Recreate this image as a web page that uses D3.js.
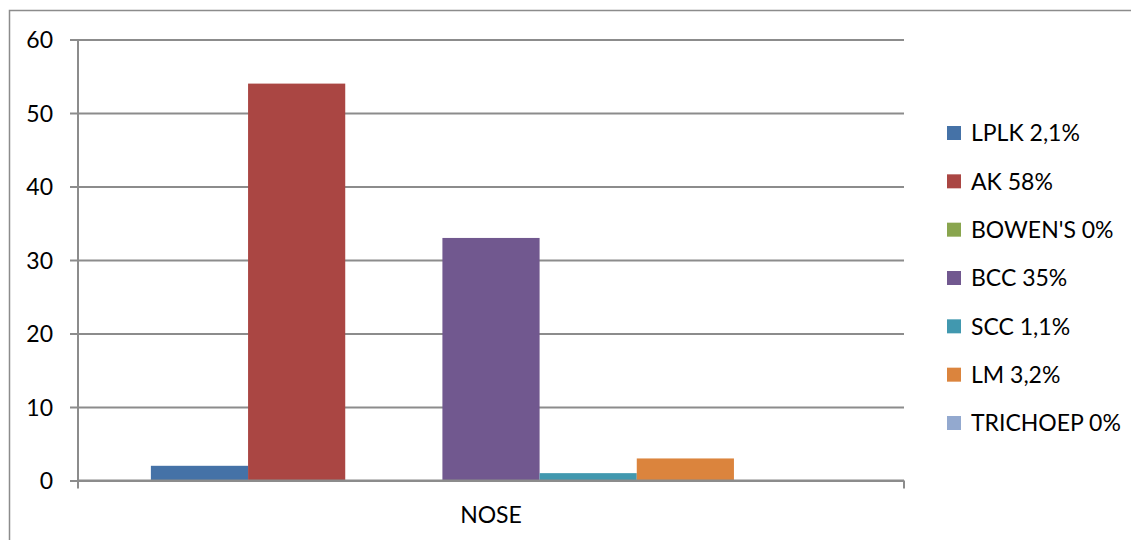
<!DOCTYPE html>
<html>
<head>
<meta charset="utf-8">
<script src="https://cdn.jsdelivr.net/npm/d3@7/dist/d3.min.js"></script>
<style>
  html, body { margin: 0; padding: 0; background: #fff; }
  svg text { font-family: Lato, "Liberation Sans", Arial, sans-serif; fill: #000; }
</style>
</head>
<body>
<svg id="chart" width="1131" height="540"></svg>
<script>
// Lesion types on the nose: counts per diagnosis
const category = "NOSE";
const seriesNames = ["LPLK 2,1%", "AK 58%", "BOWEN'S 0%", "BCC 35%", "SCC 1,1%", "LM 3,2%", "TRICHOEP 0%"];
const seriesValues = [2, 54, 0, 33, 1, 3, 0];
const seriesColors = ["#4572a7", "#aa4643", "#89a54e", "#71588f", "#4198af", "#db843d", "#93a9cf"];
const yTicks = [0, 10, 20, 30, 40, 50, 60];

const svg = d3.select("#chart");
const plot = { left: 78, right: 904, top: 39.5, bottom: 480.5 };
const fontSize = 23;

// Outer chart frame
svg.append("rect")
  .attr("x", 9.5).attr("y", 10.5)
  .attr("width", 1140).attr("height", 560)
  .attr("fill", "none").attr("stroke", "#8c8c8c").attr("stroke-width", 1.5);

const y = d3.scaleLinear().domain([0, 60]).range([plot.bottom, plot.top]);
const xCat = d3.scaleBand().domain([category]).range([plot.left, plot.right]);
// Bars fill the category band with a gap of 1.5 bar widths split over both sides
const barW = xCat.bandwidth() / (seriesNames.length + 1.5);
const xSeries = d3.scaleBand()
  .domain(seriesNames)
  .range([xCat(category) + barW * 0.75, xCat(category) + xCat.bandwidth() - barW * 0.75])
  .padding(0);

// Gridlines with short outside ticks
const yAxis = d3.axisLeft(y).tickValues(yTicks).tickSize(-(plot.right - plot.left)).tickPadding(25).tickSizeOuter(0);
const gY = svg.append("g").attr("transform", `translate(${plot.left},0)`).call(yAxis);
gY.select(".domain").remove();
gY.selectAll(".tick line")
  .attr("x1", -8)
  .attr("stroke", "#8c8c8c").attr("stroke-width", 2);
gY.selectAll(".tick text").attr("font-size", fontSize).attr("dy", "0.36em");

// Bars
svg.append("g").selectAll("rect")
  .data(seriesNames.map((n, i) => ({ name: n, value: seriesValues[i], color: seriesColors[i] })))
  .join("rect")
  .attr("x", d => xSeries(d.name))
  .attr("width", xSeries.bandwidth())
  .attr("y", d => y(d.value))
  .attr("height", d => y(0) - y(d.value))
  .attr("fill", d => d.color);

// Vertical axis line
svg.append("line")
  .attr("x1", plot.left).attr("x2", plot.left)
  .attr("y1", plot.top).attr("y2", plot.bottom + 8)
  .attr("stroke", "#8c8c8c").attr("stroke-width", 2);

// Category axis with boundary ticks
const xAxis = d3.axisBottom(xCat).tickSize(0).tickPadding(26);
const gX = svg.append("g").attr("transform", `translate(0,${plot.bottom})`).call(xAxis);
gX.select(".domain").remove();
gX.selectAll(".tick text").attr("font-size", fontSize);
svg.append("line")
  .attr("x1", plot.left).attr("x2", plot.right)
  .attr("y1", plot.bottom).attr("y2", plot.bottom)
  .attr("stroke", "#8c8c8c").attr("stroke-width", 2);
svg.append("line")
  .attr("x1", plot.right).attr("x2", plot.right)
  .attr("y1", plot.bottom).attr("y2", plot.bottom + 8)
  .attr("stroke", "#8c8c8c").attr("stroke-width", 2);

// Legend
const legendY = d3.scalePoint().domain(seriesNames).range([133, 423]);
const legend = svg.append("g").selectAll("g")
  .data(seriesNames)
  .join("g")
  .attr("transform", d => `translate(947,${legendY(d)})`);
legend.append("rect")
  .attr("x", 0).attr("y", -7).attr("width", 14).attr("height", 14)
  .attr("fill", (d, i) => seriesColors[i]);
legend.append("text")
  .attr("x", 24).attr("dy", "0.36em")
  .attr("font-size", fontSize)
  .text(d => d);
</script>
</body>
</html>
